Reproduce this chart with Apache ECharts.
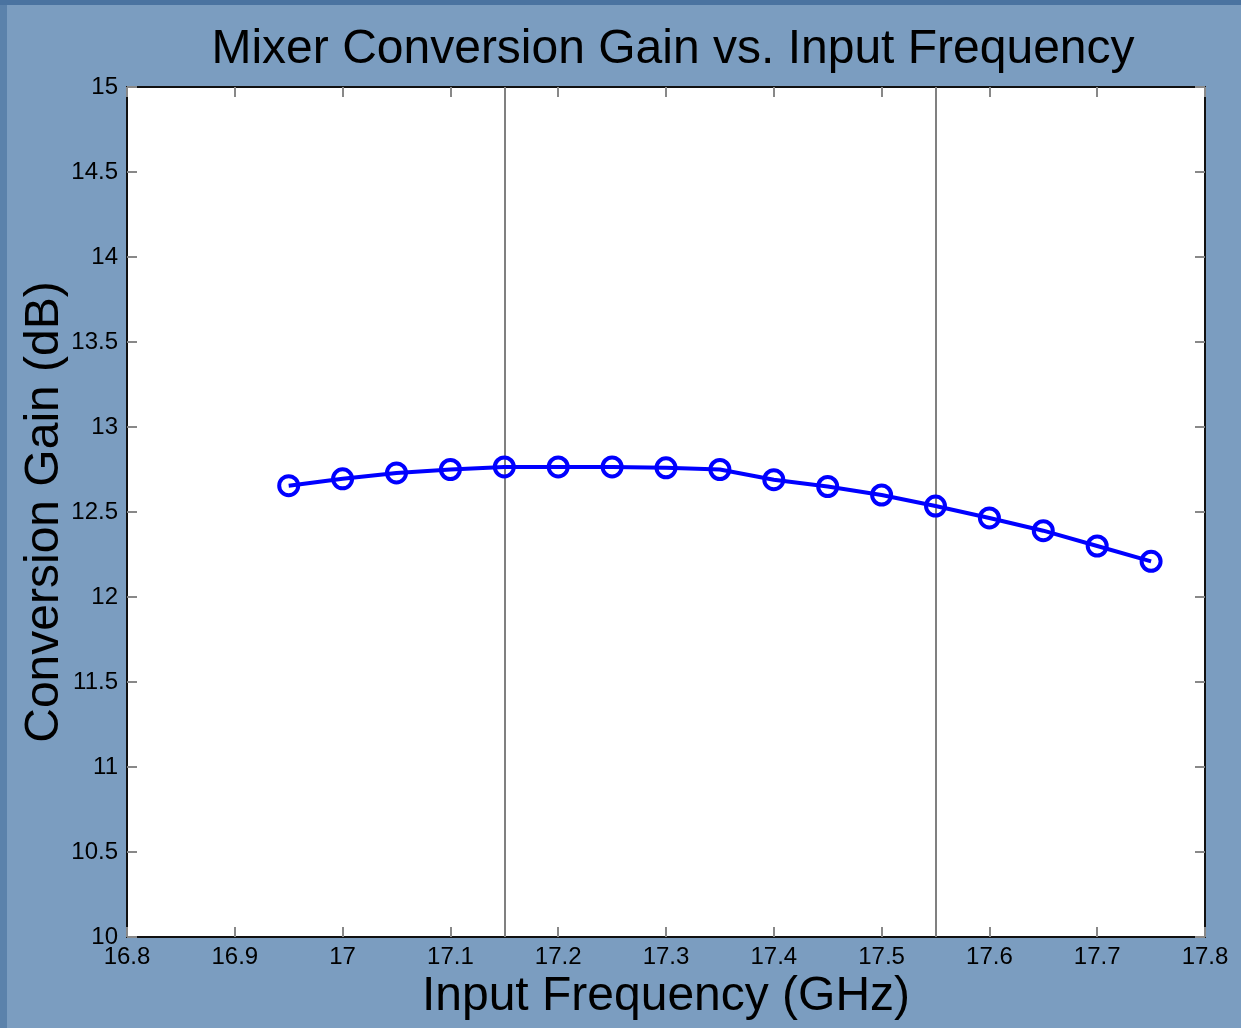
<!DOCTYPE html>
<html>
<head>
<meta charset="utf-8">
<title>Mixer Conversion Gain vs. Input Frequency</title>
<script src="https://cdn.jsdelivr.net/npm/echarts@6/dist/echarts.min.js"></script>
<style>
  html, body {
    margin: 0;
    padding: 0;
    width: 1241px;
    height: 1028px;
    overflow: hidden;
    background:
      linear-gradient(#4a73a0, #4a73a0) top left / 100% 5px no-repeat,
      linear-gradient(#5b82ab, #5b82ab) top left / 7px 100% no-repeat,
      #7b9dc0;
  }
  #chart { width: 1241px; height: 1028px; }
</style>
</head>
<body>
<div id="chart"></div>
<script>
// input frequency (GHz)
const freqs = [16.95, 17.0, 17.05, 17.1, 17.15, 17.2, 17.25, 17.3, 17.35,
  17.4, 17.45, 17.5, 17.55, 17.6, 17.65, 17.7, 17.75]
// conversion gain (dB)
const gains = [12.655, 12.695, 12.73, 12.75, 12.765, 12.765, 12.765, 12.76, 12.75,
  12.69, 12.65, 12.60, 12.535, 12.465, 12.39, 12.30, 12.21]
// band edges marked with vertical lines
const bandEdges = [17.15, 17.55]

const xRange = { min: 16.8, max: 17.8, interval: 0.1 }
const yRange = { min: 10, max: 15, interval: 0.5 }

const font = '"Liberation Sans", Arial, sans-serif'
const tickStyle = { show: true, inside: true, length: 10, lineStyle: { color: '#888', width: 2 } }
const frame = { show: true, onZero: false, lineStyle: { color: '#111', width: 2 } }

const chart = echarts.init(document.getElementById('chart'))

chart.setOption({
  backgroundColor: 'transparent',
  animation: false,
  title: {
    text: 'Mixer Conversion Gain vs. Input Frequency',
    left: 668,
    top: 21,
    textAlign: 'center',
    textStyle: { fontFamily: font, fontSize: 48, fontWeight: 'normal', color: '#000' },
  },
  grid: {
    left: 127, right: 36, top: 87, bottom: 91,
    show: true, backgroundColor: '#fff', borderWidth: 0,
  },
  xAxis: [
    {
      type: 'value',
      ...xRange,
      position: 'bottom',
      name: 'Input Frequency (GHz)',
      nameLocation: 'middle',
      nameGap: 36,
      nameMoveOverlap: false,
      nameTextStyle: { fontFamily: font, fontSize: 48, color: '#000' },
      axisLine: frame,
      axisTick: tickStyle,
      splitLine: { show: false },
      axisLabel: { fontFamily: font, fontSize: 24, color: '#000', margin: 8 },
    },
    {
      type: 'value',
      ...xRange,
      position: 'top',
      axisLine: frame,
      axisTick: tickStyle,
      splitLine: { show: false },
      axisLabel: { show: false },
    },
  ],
  yAxis: [
    {
      type: 'value',
      ...yRange,
      position: 'left',
      name: 'Conversion Gain (dB)',
      nameLocation: 'middle',
      nameGap: 58,
      nameMoveOverlap: false,
      nameTextStyle: { fontFamily: font, fontSize: 48, color: '#000' },
      axisLine: frame,
      axisTick: tickStyle,
      splitLine: { show: false },
      axisLabel: { fontFamily: font, fontSize: 24, color: '#000', margin: 9 },
    },
    {
      type: 'value',
      ...yRange,
      position: 'right',
      axisLine: frame,
      axisTick: tickStyle,
      splitLine: { show: false },
      axisLabel: { show: false },
    },
  ],
  series: [
    {
      type: 'line',
      data: freqs.map((f, i) => [f, gains[i]]),
      symbol: 'circle',
      symbolSize: 19,
      showAllSymbol: true,
      lineStyle: { color: '#0000ff', width: 4 },
      itemStyle: { color: 'rgba(0,0,0,0)', borderColor: '#0000ff', borderWidth: 4 },
      z: 3,
      markLine: {
        silent: true,
        symbol: 'none',
        label: { show: false },
        lineStyle: { color: '#808080', width: 2, type: 'solid' },
        data: bandEdges.map(v => ({ xAxis: v })),
        z: 1,
      },
    },
  ],
})
</script>
</body>
</html>
